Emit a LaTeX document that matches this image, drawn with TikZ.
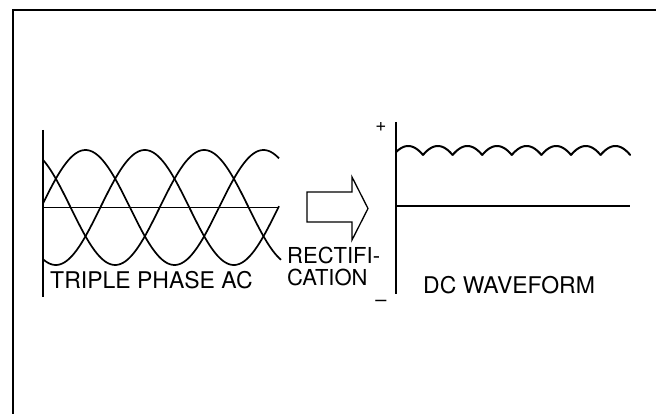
\documentclass[tikz,border=0pt]{standalone}
\usepackage{fontspec}
\setmainfont{TeX Gyre Heros}
\usepackage{tikz}
\usetikzlibrary{positioning}

\begin{document}
\begin{tikzpicture}[
    x=1pt, y=-1pt,
    frame/.style={line width=2pt, black},
    axis/.style={line width=1.6pt, black},
    wave/.style={line width=1.7pt, black, line join=round},
    ripple/.style={line width=2pt, black, line cap=round, line join=round},
    caption/.style={font=\fontsize{23}{26}\selectfont, inner sep=0pt, anchor=base west},
    sign/.style={font=\fontsize{19}{21}\selectfont, inner sep=0pt},
    blockarrow/.style={line width=1.3pt, black, line join=miter},
  ]
  \useasboundingbox (0,0) rectangle (656,414);
  % Frame
  \draw[frame] (13,414) -- (13,10) -- (656,10);
  % Triple phase AC
  \coordinate (actop) at (43,130);
  \coordinate (acbot) at (43,297);
  \coordinate (acleft) at (43,207.5);
  \coordinate (acright) at (279,207.5);
  \draw[axis] (actop) -- (acbot);
  \draw[axis] (acleft) -- (acright);
  \draw[wave] plot[domain=43:279, samples=120] (\x, {207.5-57.5*sin((\x-41)*2.0225)});
  \draw[wave] plot[domain=43:279, samples=120] (\x, {207.5-57.5*sin((\x-41)*2.0225-120)});
  \draw[wave] plot[domain=43:281, samples=120] (\x, {207.5-57.5*sin((\x-41)*2.0225+120)});
  \node[caption] (acname) at (50,288) {TRIPLE PHASE AC};
  % Rectification arrow
  \draw[blockarrow] (307,192) -- (352,192) -- (352,177) -- (368,208.5)
    -- (352,240) -- (352,222) -- (307,222) -- cycle;
  \node[caption, font=\fontsize{22}{24}\selectfont] (rectifi) at (287,264) {RECTIFI-};
  \node[caption, font=\fontsize{22}{24}\selectfont] (cation) at (287,285) {CATION};
  % DC waveform
  \coordinate (dctop) at (396,122);
  \coordinate (dcbot) at (396,294);
  \coordinate (dcleft) at (396,206);
  \coordinate (dcright) at (630,206);
  \draw[axis] (dctop) -- (dcbot);
  \draw[axis] (dcleft) -- (dcright);
  \foreach \k [evaluate=\k as \lo using {ifthenelse(\k==0,-25,-30)}] in {0,...,7}
    \draw[ripple] plot[domain=\lo:30, samples=21]
      ({393.4+29.6*\k+14.8+\x*29.6/60}, {146+67*(1-cos(\x))});
  \node[sign] (plus) at (381,127) {+};
  \node[sign, font=\fontsize{20}{22}\selectfont] (minus) at (381,303) {–};
  \node[caption] (dcname) at (423,293) {DC WAVEFORM};
\end{tikzpicture}
\end{document}
